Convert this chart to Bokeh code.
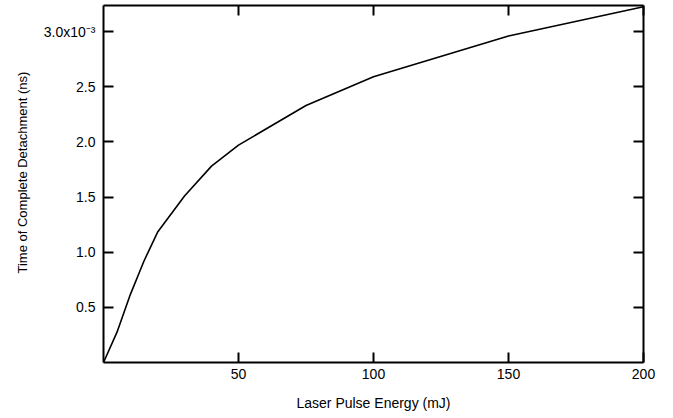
from bokeh.plotting import figure
from bokeh.models import Range1d, LinearAxis, FixedTicker, CustomJSTickFormatter, Title
from bokeh.embed import file_html
from bokeh.resources import INLINE

# Laser pulse energy (mJ)
energy_mJ = [0, 5, 10, 15, 20, 30, 40, 50, 75, 100, 150, 200]
# Time of complete detachment (ns)
detach_ns = [0.0, 0.000275, 0.00062, 0.00092, 0.00118, 0.00151, 0.00178,
             0.00197, 0.00233, 0.00259, 0.00296, 0.003225]

x_ticks = [50, 100, 150, 200]
y_ticks = [0.0005, 0.001, 0.0015, 0.002, 0.0025, 0.003]

FONT = "Liberation Sans"

p = figure(width=673, height=418, output_backend="svg", toolbar_location=None,
           x_range=Range1d(0, 200), y_range=Range1d(0, 0.003236),
           frame_width=540, frame_height=357,
           min_border_left=103, min_border_right=30,
           min_border_top=5, min_border_bottom=56,
           x_axis_location=None, y_axis_location=None)
p.outline_line_color = None
p.grid.visible = False
p.background_fill_color = "white"
p.border_fill_color = "white"

p.line(energy_mJ, detach_ns, line_color="black", line_width=1.6,
       line_join="round")

yfmt = CustomJSTickFormatter(code="""
const v = tick * 1000;
if (Math.abs(v - 3) < 1e-6) { return '3.0x10\u207B\u00B3'; }
return v.toFixed(1);
""")
blank = CustomJSTickFormatter(code="return '';")


def style(ax):
    ax.axis_line_width = 2
    ax.axis_line_color = "black"
    ax.major_tick_in = 10
    ax.major_tick_out = 0
    ax.major_tick_line_width = 2
    ax.minor_tick_line_color = None
    ax.major_label_text_font = FONT
    ax.major_label_text_font_size = "14px"
    ax.major_label_text_color = "black"
    ax.axis_label_text_font = FONT
    ax.axis_label_text_font_size = "14px"
    ax.axis_label_text_font_style = "normal"
    ax.axis_label_text_color = "black"


xb = LinearAxis(ticker=FixedTicker(ticks=x_ticks), axis_label="Laser Pulse Energy (mJ)")
style(xb)
xb.major_label_standoff = 6
xb.axis_label_standoff = 13
p.add_layout(xb, "below")

xt = LinearAxis(ticker=FixedTicker(ticks=x_ticks), formatter=blank)
style(xt)
xt.major_label_standoff = 0
p.add_layout(xt, "above")

yl = LinearAxis(ticker=FixedTicker(ticks=y_ticks), formatter=yfmt)
style(yl)
yl.major_label_standoff = 8
p.add_layout(yl, "left")

ytitle = Title(text="Time of Complete Detachment (ns)", align="left", offset=89,
               text_font=FONT, text_font_size="13px", text_font_style="normal",
               text_color="#000000", standoff=22)
p.add_layout(ytitle, "left")

yr = LinearAxis(ticker=FixedTicker(ticks=y_ticks), formatter=blank)
style(yr)
yr.major_label_standoff = 0
p.add_layout(yr, "right")

open("out.html", "w").write(file_html(p, INLINE))
